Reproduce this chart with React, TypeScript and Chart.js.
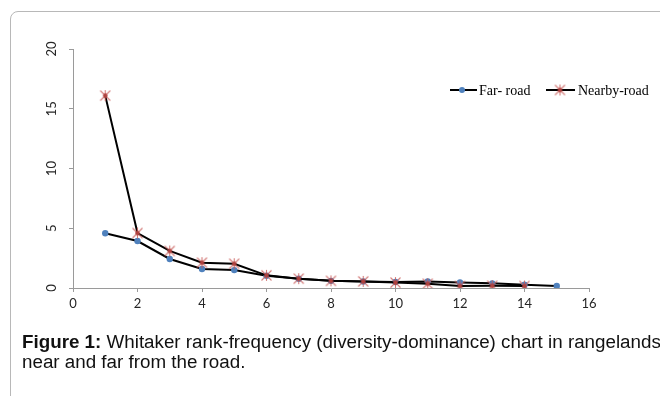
import React, { useEffect, useRef } from 'react';
import { Chart, registerables } from 'chart.js';

Chart.register(...registerables);

const ranks = [1, 2, 3, 4, 5, 6, 7, 8, 9, 10, 11, 12, 13, 14, 15];
const farRoad = [4.58, 3.93, 2.43, 1.59, 1.5, 1.03, 0.78, 0.6, 0.55, 0.5, 0.55, 0.47, 0.39, 0.28, 0.17];
const nearbyRoad = [16.1, 4.6, 3.1, 2.12, 2.03, 1.06, 0.78, 0.6, 0.55, 0.45, 0.36, 0.17, 0.19, 0.17];
const xTicks = [0, 2, 4, 6, 8, 10, 12, 14, 16];
const yTicks = [0, 5, 10, 15, 20];
const seriesNames = ['Far- road', 'Nearby-road'];

const AXIS = '#9a9a9a';
const TICK_FONT = 'Lato, "DejaVu Sans", sans-serif';

function makeStar(): HTMLCanvasElement {
  const c = document.createElement('canvas');
  c.width = 13;
  c.height = 13;
  const g = c.getContext('2d')!;
  g.strokeStyle = 'rgba(200,90,88,0.8)';
  g.lineWidth = 1.1;
  g.beginPath();
  g.moveTo(1.5, 1.5); g.lineTo(11.5, 11.5);
  g.moveTo(11.5, 1.5); g.lineTo(1.5, 11.5);
  g.moveTo(6.5, 1); g.lineTo(6.5, 12);
  g.stroke();
  g.fillStyle = '#B0413E';
  g.beginPath();
  g.arc(6.5, 6.5, 2.2, 0, Math.PI * 2);
  g.fill();
  return c;
}

export default function App() {
  const ref = useRef<HTMLCanvasElement | null>(null);

  useEffect(() => {
    if (!ref.current) return;
    const star = makeStar();

    const yLabels = {
      id: 'yLabels',
      afterDraw(chart: any) {
        const ctx = chart.ctx;
        const ys = chart.scales.y;
        ctx.save();
        ctx.fillStyle = '#262626';
        ctx.font = `13px ${TICK_FONT}`;
        ctx.textAlign = 'center';
        ctx.textBaseline = 'alphabetic';
        yTicks.forEach((v) => {
          const py = ys.getPixelForValue(v);
          ctx.save();
          ctx.translate(56, py);
          ctx.rotate(-Math.PI / 2);
          ctx.fillText(String(v), 0, 0);
          ctx.restore();
        });
        ctx.restore();
      },
    };

    const legendPlugin = {
      id: 'customLegend',
      afterDraw(chart: any) {
        const ctx = chart.ctx;
        const y = 90;
        ctx.save();
        ctx.strokeStyle = '#000';
        ctx.lineWidth = 2;
        ctx.beginPath();
        ctx.moveTo(450, y); ctx.lineTo(477, y); ctx.stroke();
        ctx.fillStyle = '#4F81BD';
        ctx.beginPath(); ctx.arc(462, y, 3, 0, Math.PI * 2); ctx.fill();
        ctx.beginPath();
        ctx.moveTo(546, y); ctx.lineTo(575, y); ctx.stroke();
        ctx.drawImage(star, 560 - 6.5, y - 6.5);
        ctx.fillStyle = '#000';
        ctx.font = '14px "Liberation Serif", "Times New Roman", serif';
        ctx.textAlign = 'left';
        ctx.textBaseline = 'middle';
        ctx.fillText(chart.data.datasets[0].label, 479, y + 1);
        ctx.fillText(chart.data.datasets[1].label, 578, y + 1);
        ctx.restore();
      },
    };

    const chart = new Chart(ref.current, {
      type: 'scatter',
      data: {
        datasets: [
          {
            label: seriesNames[0],
            data: ranks.slice(0, farRoad.length).map((r, i) => ({ x: r, y: farRoad[i] })),
            showLine: true,
            borderColor: '#000',
            borderWidth: 2,
            pointStyle: 'circle',
            pointRadius: 3.2,
            pointBackgroundColor: '#4F81BD',
            pointBorderColor: '#4F81BD',
            pointBorderWidth: 0,
            order: 2,
          },
          {
            label: seriesNames[1],
            data: ranks.slice(0, nearbyRoad.length).map((r, i) => ({ x: r, y: nearbyRoad[i] })),
            showLine: true,
            borderColor: '#000',
            borderWidth: 2,
            pointStyle: star,
            pointRadius: 6,
            order: 1,
          },
        ],
      },
      options: {
        animation: false,
        responsive: false,
        maintainAspectRatio: false,
        layout: { padding: { left: 0, top: 49, right: 71, bottom: 88 } },
        plugins: { legend: { display: false }, tooltip: { enabled: false } },
        scales: {
          x: {
            type: 'linear',
            min: 0,
            max: 16,
            afterBuildTicks: (s: any) => { s.ticks = xTicks.map((v) => ({ value: v })); },
            afterFit: (s: any) => { s.height = 20; },
            ticks: { color: '#262626', font: { family: TICK_FONT, size: 13 }, padding: 4, maxRotation: 0 },
            grid: { drawOnChartArea: false, drawTicks: true, tickLength: 4, color: AXIS },
            border: { color: AXIS, width: 1 },
          },
          y: {
            type: 'linear',
            min: 0,
            max: 20,
            afterBuildTicks: (s: any) => { s.ticks = yTicks.map((v) => ({ value: v })); },
            afterFit: (s: any) => { s.width = 73; },
            ticks: { color: 'rgba(0,0,0,0)', font: { family: TICK_FONT, size: 12 } },
            grid: { drawOnChartArea: false, drawTicks: true, tickLength: 4, color: AXIS },
            border: { color: AXIS, width: 1 },
          },
        },
      },
      plugins: [yLabels, legendPlugin],
    });
    return () => chart.destroy();
  }, []);

  return (
    <div style={{ position: 'fixed', left: 0, top: 0, width: 660, height: 396, overflow: 'hidden', background: '#fff' }}>
      <div
        style={{
          position: 'absolute',
          left: 10,
          top: 11,
          width: 800,
          height: 500,
          border: '1px solid #b8b8b8',
          borderRadius: 8,
          boxSizing: 'border-box',
        }}
      />
      <canvas ref={ref} width={660} height={396} style={{ position: 'absolute', left: 0, top: 0, width: 660, height: 396 }} />
      <div
        style={{
          position: 'absolute',
          left: 22,
          top: 332,
          whiteSpace: 'nowrap',
          fontFamily: '"Liberation Sans", Arial, sans-serif',
          fontSize: 18.8,
          lineHeight: '20px',
          color: '#111',
        }}
      >
        <b>Figure 1:</b> Whitaker rank-frequency (diversity-dominance) chart in rangelands
        <br />
        near and far from the road.
      </div>
    </div>
  );
}
